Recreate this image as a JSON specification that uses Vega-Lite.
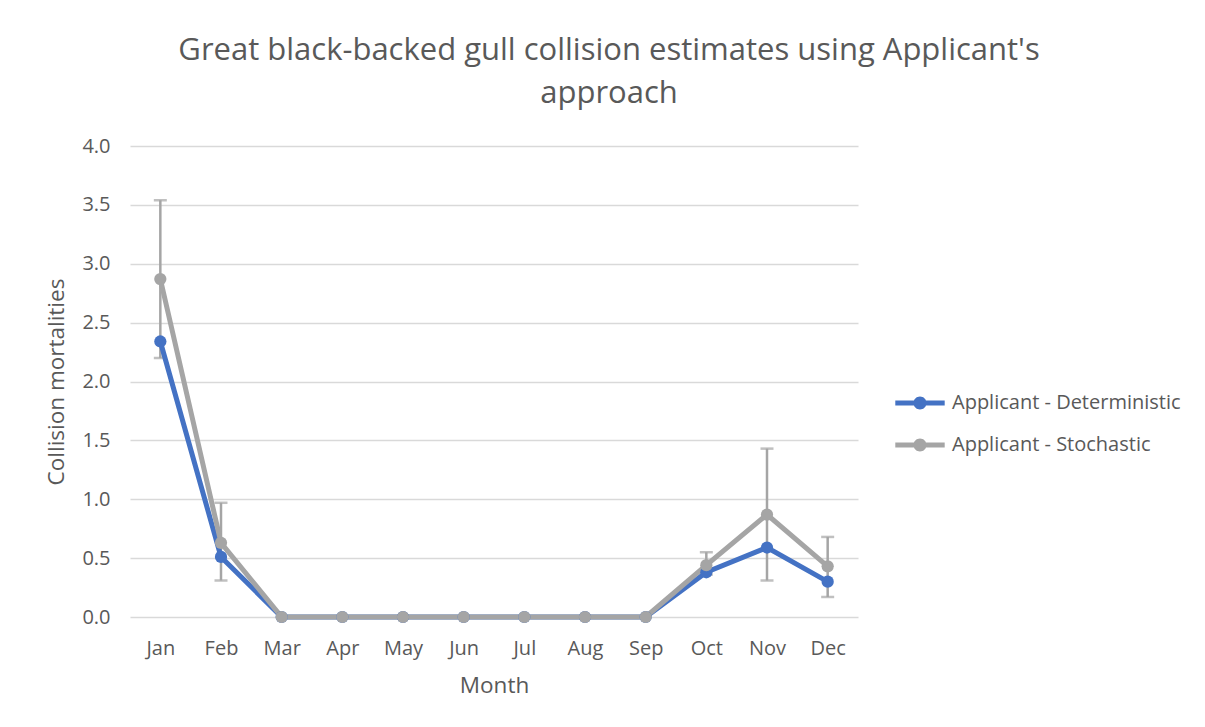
{
  "$schema": "https://vega.github.io/schema/vega-lite/v6.json",
  "width": 728,
  "height": 471,
  "autosize": {"type": "none"},
  "padding": {"left": 130, "top": 146, "right": 347, "bottom": 110},
  "background": "white",
  "title": {
    "text": ["Great black-backed gull collision estimates using Applicant's", "approach"],
    "font": "Open Sans",
    "fontSize": 31,
    "fontWeight": "normal",
    "color": "#595959",
    "anchor": "middle",
    "frame": "group",
    "dx": 115,
    "lineHeight": 43,
    "offset": 26
  },
  "config": {
    "view": {"stroke": null},
    "font": "Open Sans",
    "axis": {
      "labelFont": "Open Sans",
      "titleFont": "Open Sans",
      "labelColor": "#595959",
      "titleColor": "#595959",
      "labelFontSize": 20,
      "titleFontSize": 22.5,
      "titleFontWeight": "normal",
      "ticks": false,
      "domain": false,
      "gridColor": "#D9D9D9",
      "gridWidth": 1.3
    },
    "legend": {
      "labelFont": "Open Sans",
      "labelFontSize": 20,
      "labelColor": "#595959",
      "labelLimit": 400
    }
  },
  "data": {
    "values": [
      {"month": "Jan", "series": "Applicant - Deterministic", "value": 2.34},
      {"month": "Feb", "series": "Applicant - Deterministic", "value": 0.51},
      {"month": "Mar", "series": "Applicant - Deterministic", "value": 0},
      {"month": "Apr", "series": "Applicant - Deterministic", "value": 0},
      {"month": "May", "series": "Applicant - Deterministic", "value": 0},
      {"month": "Jun", "series": "Applicant - Deterministic", "value": 0},
      {"month": "Jul", "series": "Applicant - Deterministic", "value": 0},
      {"month": "Aug", "series": "Applicant - Deterministic", "value": 0},
      {"month": "Sep", "series": "Applicant - Deterministic", "value": 0},
      {"month": "Oct", "series": "Applicant - Deterministic", "value": 0.38},
      {"month": "Nov", "series": "Applicant - Deterministic", "value": 0.59},
      {"month": "Dec", "series": "Applicant - Deterministic", "value": 0.30},
      {"month": "Jan", "series": "Applicant - Stochastic", "value": 2.87, "low": 2.20, "high": 3.54},
      {"month": "Feb", "series": "Applicant - Stochastic", "value": 0.63, "low": 0.31, "high": 0.97},
      {"month": "Mar", "series": "Applicant - Stochastic", "value": 0, "low": 0, "high": 0},
      {"month": "Apr", "series": "Applicant - Stochastic", "value": 0, "low": 0, "high": 0},
      {"month": "May", "series": "Applicant - Stochastic", "value": 0, "low": 0, "high": 0},
      {"month": "Jun", "series": "Applicant - Stochastic", "value": 0, "low": 0, "high": 0},
      {"month": "Jul", "series": "Applicant - Stochastic", "value": 0, "low": 0, "high": 0},
      {"month": "Aug", "series": "Applicant - Stochastic", "value": 0, "low": 0, "high": 0},
      {"month": "Sep", "series": "Applicant - Stochastic", "value": 0, "low": 0, "high": 0},
      {"month": "Oct", "series": "Applicant - Stochastic", "value": 0.44, "low": 0.36, "high": 0.55},
      {"month": "Nov", "series": "Applicant - Stochastic", "value": 0.87, "low": 0.31, "high": 1.43},
      {"month": "Dec", "series": "Applicant - Stochastic", "value": 0.43, "low": 0.17, "high": 0.68}
    ]
  },
  "encoding": {
    "x": {
      "field": "month",
      "type": "ordinal",
      "sort": ["Jan", "Feb", "Mar", "Apr", "May", "Jun", "Jul", "Aug", "Sep", "Oct", "Nov", "Dec"],
      "scale": {"type": "point", "padding": 0.5},
      "axis": {"title": "Month", "labelAngle": 0, "labelPadding": 21, "titlePadding": 16, "grid": false}
    }
  },
  "layer": [
    {
      "transform": [{"filter": "datum.high > 0"}],
      "mark": {"type": "rule", "color": "#A5A5A5", "strokeWidth": 2.5},
      "encoding": {
        "y": {"field": "low", "type": "quantitative"},
        "y2": {"field": "high"}
      }
    },
    {
      "transform": [{"filter": "datum.high > 0"}],
      "mark": {"type": "tick", "color": "#A5A5A5", "thickness": 2.5, "size": 13},
      "encoding": {"y": {"field": "low", "type": "quantitative"}}
    },
    {
      "transform": [{"filter": "datum.high > 0"}],
      "mark": {"type": "tick", "color": "#A5A5A5", "thickness": 2.5, "size": 13},
      "encoding": {"y": {"field": "high", "type": "quantitative"}}
    },
    {
      "mark": {"type": "line", "strokeWidth": 5, "point": {"filled": true, "size": 150, "opacity": 1}},
      "encoding": {
        "y": {
          "field": "value",
          "type": "quantitative",
          "scale": {"domain": [0, 4]},
          "axis": {
            "title": "Collision mortalities",
            "format": ".1f",
            "values": [0, 0.5, 1, 1.5, 2, 2.5, 3, 3.5, 4],
            "labelPadding": 20,
            "titlePadding": 13
          }
        },
        "color": {
          "field": "series",
          "type": "nominal",
          "scale": {"domain": ["Applicant - Deterministic", "Applicant - Stochastic"], "range": ["#4472C4", "#A5A5A5"]},
          "legend": {
            "title": null,
            "orient": "none",
            "legendX": 777,
            "legendY": 244,
            "padding": 0,
            "symbolType": "M-1.9,-0.2H1.9V0.2H-1.9Z M0.5,0A0.5,0.5 0 1,1 -0.5,0A0.5,0.5 0 1,1 0.5,0Z",
            "symbolSize": 676,
            "symbolStrokeWidth": 0,
            "labelOffset": 19,
            "rowPadding": 19
          }
        }
      }
    }
  ]
}
